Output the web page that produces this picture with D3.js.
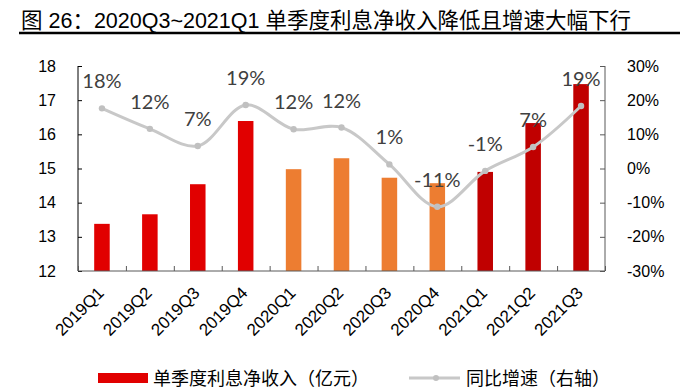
<!DOCTYPE html>
<html><head><meta charset="utf-8">
<script src="https://cdn.jsdelivr.net/npm/d3@7"></script>
<style>body{margin:0;background:#fff}svg{display:block}</style>
</head><body>
<svg id="c" width="680" height="388"></svg>
<script>
const categories = ["2019Q1","2019Q2","2019Q3","2019Q4","2020Q1","2020Q2","2020Q3","2020Q4","2021Q1","2021Q2","2021Q3"];
const netIncome = [13.38,13.66,14.54,16.39,14.98,15.30,14.73,14.57,14.90,16.33,17.47];
const yoyGrowth = [17.6,11.6,6.6,18.6,11.5,12.0,1.2,-11.2,-0.7,6.3,18.3];
const growthLabels = ["18%","12%","7%","19%","12%","12%","1%","-11%","-1%","7%","19%"];
const barColors = ["#e10000","#e10000","#e10000","#e10000","#ed7d31","#ed7d31","#ed7d31","#ed7d31","#c00000","#c00000","#c00000"];
const leftTicks = [12,13,14,15,16,17,18];
const rightTicks = [-30,-20,-10,0,10,20,30];
const title = "图 26：2020Q3~2021Q1 单季度利息净收入降低且增速大幅下行";
const legendBar = "单季度利息净收入（亿元）";
const legendLine = "同比增速（右轴）";

const svg = d3.select("#c");
const L = 78, R = 605, T = 66, B = 271;
const latin = "'Liberation Sans', Arial, 'Noto Sans CJK SC', sans-serif";
const cjk = "'Liberation Sans', 'Noto Sans CJK SC', sans-serif";

// title
svg.append("text").attr("x", 21).attr("y", 28).attr("font-family", cjk).attr("font-size", 21.5)
  .attr("fill", "#000").text(title);
svg.append("line").attr("x1", 19).attr("x2", 680).attr("y1", 33).attr("y2", 33)
  .attr("stroke", "#000").attr("stroke-width", 2.5);

const x = d3.scaleBand().domain(categories).range([L, R]).paddingInner(0.676).paddingOuter(0.338);
const xb = d3.scaleLinear().domain([0, categories.length]).range([L, R]);
const yL = d3.scaleLinear().domain([12, 18]).range([B, T]);
const yR = d3.scaleLinear().domain([-30, 30]).range([B, T]);

// bars
svg.append("g").selectAll("rect").data(netIncome).join("rect")
  .attr("x", (d, i) => x(categories[i]))
  .attr("width", x.bandwidth())
  .attr("y", d => yL(d))
  .attr("height", d => B - yL(d))
  .attr("fill", (d, i) => barColors[i]);

// left axis
const gl = svg.append("g").attr("transform", `translate(${L},0)`)
  .call(d3.axisLeft(yL).tickValues(leftTicks).tickSize(-4).tickPadding(22).tickFormat(d3.format("d")));
gl.select(".domain").attr("stroke", "#000").attr("d", `M0,${T}V${B}`);
gl.selectAll(".tick line").attr("stroke", "#000");
gl.selectAll("text").attr("font-family", latin).attr("font-size", 16).attr("fill", "#000");

// right axis
const gr = svg.append("g").attr("transform", `translate(${R},0)`)
  .call(d3.axisRight(yR).tickValues(rightTicks).tickSize(-5).tickPadding(22).tickFormat(d => d + "%"));
gr.select(".domain").attr("stroke", "#595959").attr("d", `M0,${T}V${B}`);
gr.selectAll(".tick line").attr("stroke", "#595959");
gr.selectAll("text").attr("font-family", latin).attr("font-size", 16).attr("fill", "#000");

// bottom axis
const gb = svg.append("g").attr("transform", `translate(0,${B})`)
  .call(d3.axisBottom(xb).tickValues(d3.range(0, categories.length + 1)).tickSize(-5).tickFormat(""));
gb.select(".domain").attr("stroke", "#595959").attr("d", `M${L},0H${R}`);
gb.selectAll(".tick line").attr("stroke", "#595959");

// x labels
svg.append("g").selectAll("text").data(categories).join("text")
  .attr("transform", d => `translate(${x(d) + x.bandwidth() / 2 + 3},294) rotate(-45)`)
  .attr("text-anchor", "end").attr("font-family", latin).attr("font-size", 17).attr("fill", "#000")
  .text(d => d);

// line
const cx = (d, i) => x(categories[i]) + x.bandwidth() / 2;
const line = d3.line().x(cx).y(d => yR(d)).curve(d3.curveCatmullRom.alpha(0.5));
svg.append("path").datum(yoyGrowth).attr("d", line).attr("fill", "none")
  .attr("stroke", "#c8c8c8").attr("stroke-width", 3);
svg.append("g").selectAll("circle").data(yoyGrowth).join("circle")
  .attr("cx", cx).attr("cy", d => yR(d)).attr("r", 3.2).attr("fill", "#c0c0c0");

// data labels
svg.append("g").selectAll("text").data(yoyGrowth).join("text")
  .attr("x", cx).attr("y", d => yR(d) - 20)
  .attr("text-anchor", "middle").attr("font-family", "Lato, 'Liberation Sans', sans-serif")
  .attr("font-size", 20).attr("fill", "#404040")
  .text((d, i) => growthLabels[i]);

// legend
svg.append("rect").attr("x", 98).attr("y", 373).attr("width", 50).attr("height", 10).attr("fill", "#e10000");
svg.append("text").attr("x", 153).attr("y", 385).attr("font-family", cjk).attr("font-size", 18)
  .attr("fill", "#000").text(legendBar);
svg.append("line").attr("x1", 409).attr("x2", 460).attr("y1", 378).attr("y2", 378)
  .attr("stroke", "#c8c8c8").attr("stroke-width", 3);
svg.append("circle").attr("cx", 436).attr("cy", 378).attr("r", 3).attr("fill", "#c0c0c0");
svg.append("text").attr("x", 466).attr("y", 385).attr("font-family", cjk).attr("font-size", 18)
  .attr("fill", "#000").text(legendLine);
</script>
</body></html>
